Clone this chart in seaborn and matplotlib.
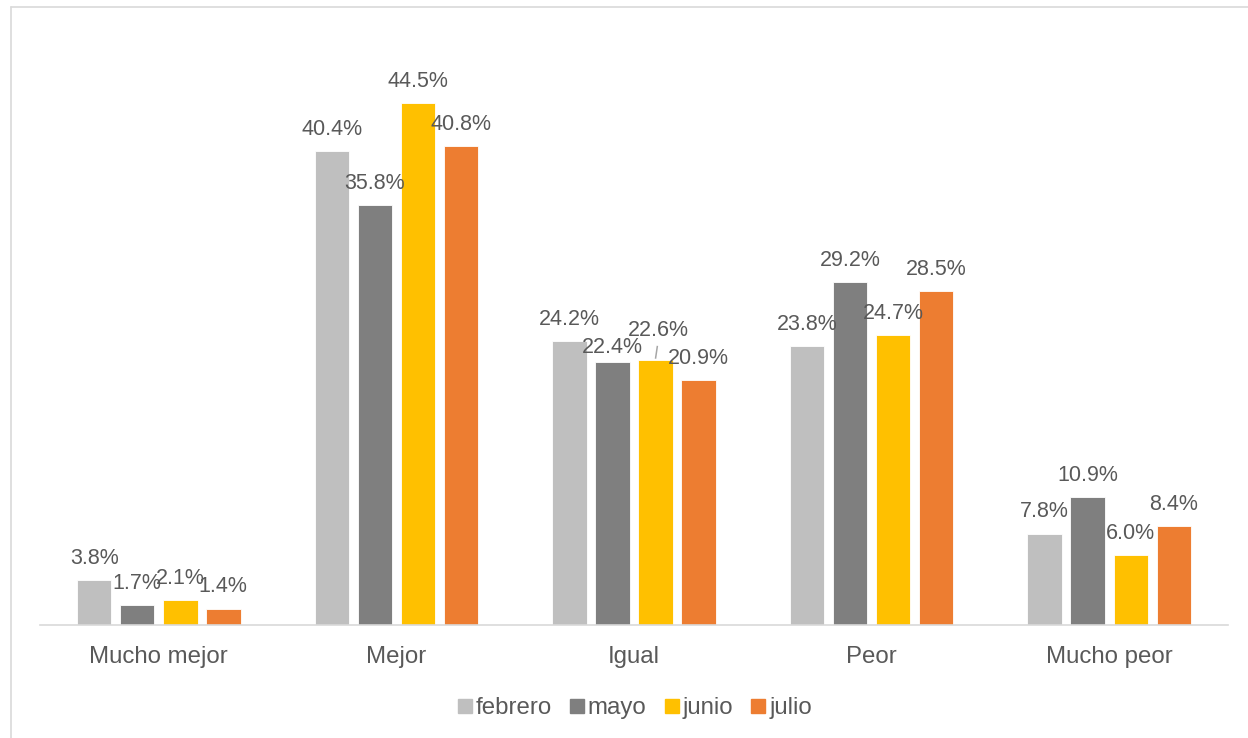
import matplotlib
matplotlib.use("Agg")
import matplotlib.pyplot as plt
from matplotlib.lines import Line2D
import seaborn as sns
import pandas as pd

categories = ["Mucho mejor", "Mejor", "Igual", "Peor", "Mucho peor"]
months = ["febrero", "mayo", "junio", "julio"]
febrero = [3.8, 40.4, 24.2, 23.8, 7.8]
mayo = [1.7, 35.8, 22.4, 29.2, 10.9]
junio = [2.1, 44.5, 22.6, 24.7, 6.0]
julio = [1.4, 40.8, 20.9, 28.5, 8.4]
colors = ["#BFBFBF", "#7F7F7F", "#FFC000", "#ED7D31"]

rows = []
for m, vals in zip(months, [febrero, mayo, junio, julio]):
    for c, v in zip(categories, vals):
        rows.append({"cat": c, "mes": m, "val": v})
df = pd.DataFrame(rows)

sns.set_theme(style="white")
plt.rcParams["font.family"] = ["Liberation Sans", "DejaVu Sans"]
txt = "#595959"

fig = plt.figure(figsize=(12.48, 7.38), dpi=100)
ax = fig.add_axes([40 / 1248, 113 / 738, 1188 / 1248, 586.5 / 738])

sns.barplot(data=df, x="cat", y="val", hue="mes", order=categories,
            hue_order=months, palette=colors, width=0.724, gap=0.2,
            saturation=1, edgecolor="white", linewidth=0.6, ax=ax,
            legend=True)

ax.set_xlim(-0.5, 4.5)
ax.set_ylim(0, 50)
ax.set_xlabel("")
ax.set_ylabel("")
ax.set_yticks([])
for s in ["top", "right", "left"]:
    ax.spines[s].set_visible(False)
ax.spines["bottom"].set_color("#D9D9D9")
ax.spines["bottom"].set_linewidth(1.2)
ax.tick_params(axis="x", length=0, pad=15, labelsize=17.3, labelcolor=txt)

for ci, cont in enumerate(ax.containers):
    for pi, p in enumerate(cont.patches):
        x = p.get_x() + p.get_width() / 2
        h = p.get_height()
        label = f"{h:.1f}%"
        if ci == 2 and pi == 2:
            ax.text(x + 0.01, h + 2.5, label, ha="center", va="center",
                    fontsize=15.5, color=txt)
            ax.plot([x + 0.008, x], [h + 1.2, h + 0.1],
                    color="#A6A6A6", lw=1.1, solid_capstyle="butt")
        else:
            off = 3 if (ci == 1 and pi == 2) else 8
            ax.annotate(label, xy=(x, h), xytext=(0, off), textcoords="offset points",
                        ha="center", va="bottom", fontsize=15.5, color=txt)

handles = [Line2D([0], [0], marker="s", linestyle="", markersize=9.5,
                  markerfacecolor=c, markeredgecolor=c) for c in colors]
ax.legend(handles, months, loc="center", bbox_to_anchor=(0.5, -0.142),
          ncol=4, frameon=False, fontsize=17.3, labelcolor=txt,
          handletextpad=0.1, columnspacing=0.7, handlelength=0.7)

# outer chart frame (cropped)
fig.add_artist(Line2D([11 / 1248, 11 / 1248], [0, 1 - 7 / 738],
                      transform=fig.transFigure, color="#D9D9D9", lw=1.2))
fig.add_artist(Line2D([11 / 1248, 1], [1 - 7 / 738, 1 - 7 / 738],
                      transform=fig.transFigure, color="#D9D9D9", lw=1.2))

fig.savefig("out.png", dpi=100, facecolor="white")
